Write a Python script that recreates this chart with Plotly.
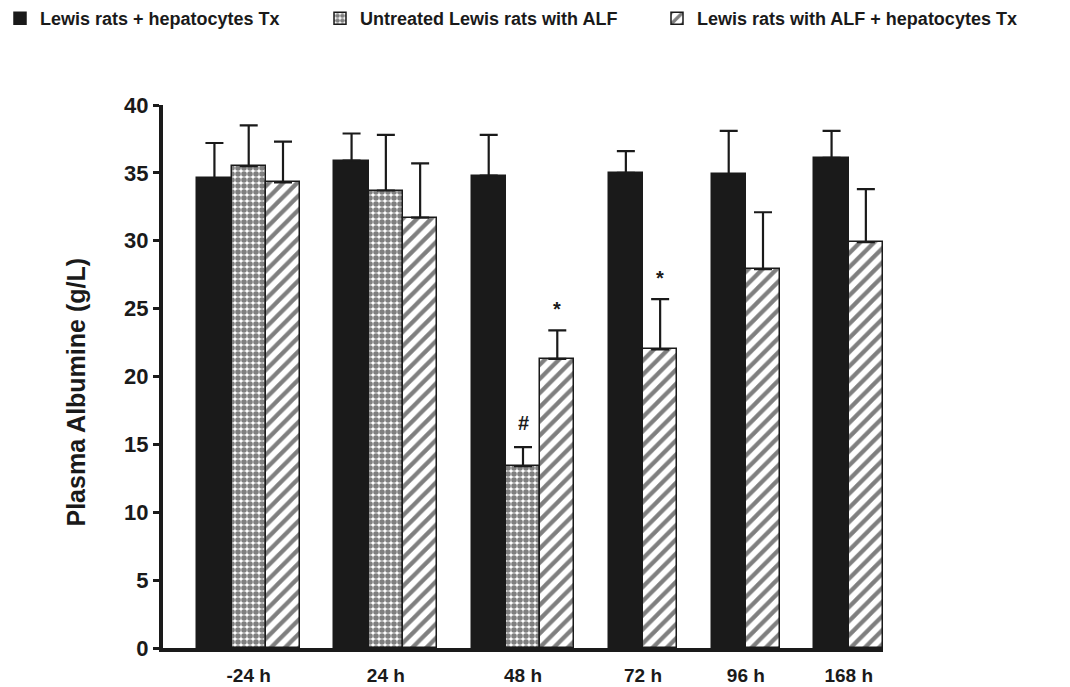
import plotly.graph_objects as go

categories = ["-24 h", "24 h", "48 h", "72 h", "96 h", "168 h"]

series_names = [
    "Lewis rats + hepatocytes Tx",
    "Untreated Lewis rats with ALF",
    "Lewis rats with ALF + hepatocytes Tx",
]
control_mean = [34.6, 35.9, 34.8, 35.0, 34.9, 36.1]
control_err = [2.6, 2.0, 3.0, 1.6, 3.2, 2.0]
untreated_mean = [35.5, 33.7, 13.4, None, None, None]
untreated_err = [3.0, 4.1, 1.4, None, None, None]
treated_mean = [34.3, 31.7, 21.3, 22.0, 27.9, 29.9]
treated_err = [3.0, 4.0, 2.1, 3.7, 4.2, 3.9]
untreated_marks = ["", "", "#", "", "", ""]
treated_marks = ["", "", "*", "*", "", ""]
y_title = "Plasma Albumine (g/L)"

means = [control_mean, untreated_mean, treated_mean]
errs = [control_err, untreated_err, treated_err]
marks = [None, untreated_marks, treated_marks]

INK = "#1a1a1a"
FONT = "Liberation Sans, Arial, sans-serif"
styles = [
    dict(color=INK, pattern=dict(shape="")),
    dict(color="white", pattern=dict(shape=".", fgcolor="#000000", bgcolor="white", size=6, solidity=0.68, fillmode="overlay")),
    dict(color="white", pattern=dict(shape="/", fgcolor="#000000", bgcolor="white", size=10, solidity=0.42, fillmode="overlay")),
]
legend_ids = ["legend", "legend2", "legend3"]
legend_x = [0, 320, 657]

# grouped bar layout: missing series take no slot; unit = one bar width, gap = one bar
xpos = [[None] * len(categories) for _ in means]
centers = []
cursor = 0.0
for ci in range(len(categories)):
    cursor += 1.0
    present = [si for si in range(len(means)) if means[si][ci] is not None]
    for k, si in enumerate(present):
        xpos[si][ci] = cursor + k + 0.5
    centers.append(cursor + len(present) / 2.0)
    cursor += len(present)

fig = go.Figure()
annotations = []
for si in range(len(means)):
    idx = [ci for ci in range(len(categories)) if means[si][ci] is not None]
    xs = [xpos[si][ci] for ci in idx]
    ys = [means[si][ci] for ci in idx]
    es = [errs[si][ci] for ci in idx]
    st = styles[si]
    fig.add_trace(go.Bar(
        x=xs, y=ys, width=1.0, name=series_names[si], legend=legend_ids[si],
        marker=dict(color=st["color"], pattern=st["pattern"], line=dict(color=INK, width=1.5)),
        error_y=dict(type="data", symmetric=False, array=es, arrayminus=[0] * len(es),
                     color=INK, thickness=2.2, width=9),
    ))
    if marks[si]:
        for ci, m in enumerate(marks[si]):
            if m:
                annotations.append(dict(
                    x=xpos[si][ci], y=means[si][ci] + errs[si][ci], xref="x", yref="y",
                    text="<b>%s</b>" % m, showarrow=False, yanchor="bottom",
                    yshift=11 if m == "#" else 8,
                    font=dict(size=20, color=INK, family=FONT),
                ))

annotations.append(dict(
    x=0, y=0.5, xref="paper", yref="paper", xanchor="center", yanchor="middle",
    xshift=-88, yshift=-16, textangle=-90, showarrow=False,
    text="<b>%s</b>" % y_title, font=dict(size=25, color=INK, family=FONT),
))

legend_common = dict(orientation="h", y=1.0, xref="container", yref="container",
                     xanchor="left", yanchor="top", itemwidth=30,
                     font=dict(size=18, family=FONT, color=INK, weight="bold"),
                     bgcolor="rgba(0,0,0,0)")
fig.update_layout(
    width=1070, height=687,
    margin=dict(l=163, r=187, t=105, b=39),
    paper_bgcolor="white", plot_bgcolor="white",
    font=dict(family=FONT, color=INK),
    showlegend=True,
    legend=dict(x=legend_x[0] / 1070, **legend_common),
    legend2=dict(x=legend_x[1] / 1070, **legend_common),
    legend3=dict(x=legend_x[2] / 1070, **legend_common),
    annotations=annotations,
    bargap=0,
)
fig.update_xaxes(
    range=[0, cursor], tickmode="array", tickvals=centers, ticktext=categories,
    showline=True, linecolor=INK, linewidth=4, ticks="", showgrid=False, zeroline=False,
    ticklabelstandoff=7, automargin=False,
    tickfont=dict(size=19, weight="bold", color=INK, family=FONT),
)
fig.update_yaxes(
    range=[0, 40], dtick=5, showline=True, linecolor=INK, linewidth=4,
    ticks="outside", ticklen=6, tickwidth=3, tickcolor=INK, showgrid=False, zeroline=False,
    automargin=False,
    tickfont=dict(size=22, weight="bold", color=INK, family=FONT),
)
fig.write_html("out.html")
